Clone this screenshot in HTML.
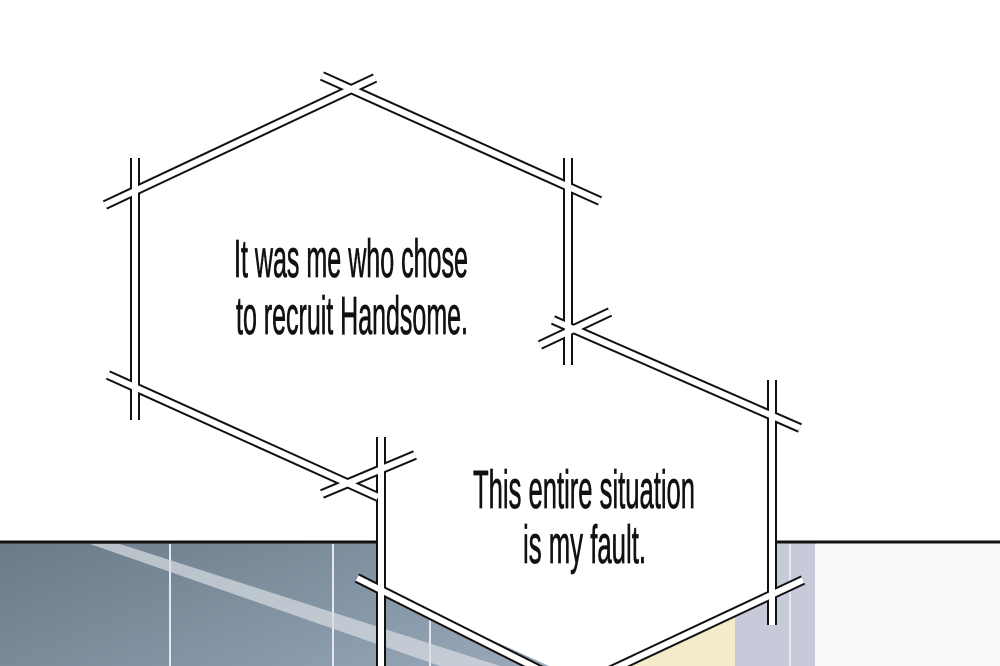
<!DOCTYPE html>
<html><head><style>
html,body{margin:0;padding:0;background:#fff;width:1000px;height:666px;overflow:hidden}
svg{display:block}
text{font-family:"Liberation Sans Narrow","Liberation Sans",sans-serif;fill:#111}
</style></head><body>
<svg width="1000" height="666" viewBox="0 0 1000 666">
<defs>
<linearGradient id="wall" x1="0" y1="0" x2="1" y2="0.3">
<stop offset="0" stop-color="#6a7a87"/><stop offset="0.5" stop-color="#8798a8"/><stop offset="1" stop-color="#aab8c8"/>
</linearGradient>
</defs>
<rect x="0" y="542" width="1000" height="124" fill="url(#wall)"/>
<rect x="735" y="542" width="80" height="124" fill="#c6cad9"/>
<rect x="815" y="542" width="185" height="124" fill="#fafafa"/>
<g stroke="#e4e8ee" stroke-width="2" fill="none">
<line x1="170" y1="544" x2="170" y2="666"/><line x1="333" y1="544" x2="333" y2="666"/>
<line x1="430" y1="600" x2="430" y2="666"/><line x1="790" y1="544" x2="790" y2="666"/>
</g>
<polygon points="90,544 120,544 500,666 440,666" fill="#d8dde3" opacity="0.7"/>
<polygon points="560,666 735,580 735,666" fill="#f3ecc8"/>
<line x1="0" y1="542" x2="385" y2="542" stroke="#111" stroke-width="3"/>
<line x1="775" y1="542" x2="1000" y2="542" stroke="#111" stroke-width="3"/>
<polygon points="381,440 560,330 772,430 772,600 580,680 381,590" fill="#fff"/>
<g stroke-linecap="butt" fill="none">
<g stroke="#111" stroke-width="10">
<line x1="105" y1="205" x2="375" y2="78"/>
<line x1="322" y1="76" x2="600" y2="201"/>
<line x1="135" y1="158" x2="135" y2="420"/>
<line x1="568" y1="158" x2="568" y2="365"/>
<line x1="108" y1="375" x2="378" y2="497"/>
<line x1="322" y1="494" x2="415" y2="455"/>
<line x1="381" y1="437" x2="381" y2="666"/>
<line x1="540" y1="345" x2="610" y2="312"/>
<line x1="553" y1="320" x2="800" y2="428"/>
<line x1="772" y1="380" x2="772" y2="625"/>
<line x1="357" y1="578" x2="560" y2="680"/>
<line x1="803" y1="580" x2="590" y2="680"/>
</g>
<g stroke="#fff" stroke-width="6">
<line x1="105" y1="205" x2="375" y2="78"/>
<line x1="322" y1="76" x2="600" y2="201"/>
<line x1="135" y1="158" x2="135" y2="420"/>
<line x1="568" y1="158" x2="568" y2="365"/>
<line x1="108" y1="375" x2="378" y2="497"/>
<line x1="322" y1="494" x2="415" y2="455"/>
<line x1="381" y1="437" x2="381" y2="666"/>
<line x1="540" y1="345" x2="610" y2="312"/>
<line x1="553" y1="320" x2="800" y2="428"/>
<line x1="772" y1="380" x2="772" y2="625"/>
<line x1="357" y1="578" x2="560" y2="680"/>
<line x1="803" y1="580" x2="590" y2="680"/>
</g>
</g>
<g font-size="54" stroke="#111" stroke-width="0.8">
<text x="234" y="277" textLength="234" lengthAdjust="spacingAndGlyphs">It was me who chose</text>
<text x="236" y="334" textLength="232" lengthAdjust="spacingAndGlyphs">to recruit Handsome.</text>
<text x="473" y="508" textLength="222" lengthAdjust="spacingAndGlyphs">This entire situation</text>
<text x="523" y="563" textLength="123" lengthAdjust="spacingAndGlyphs">is my fault.</text>
</g>
</svg>
</body></html>
